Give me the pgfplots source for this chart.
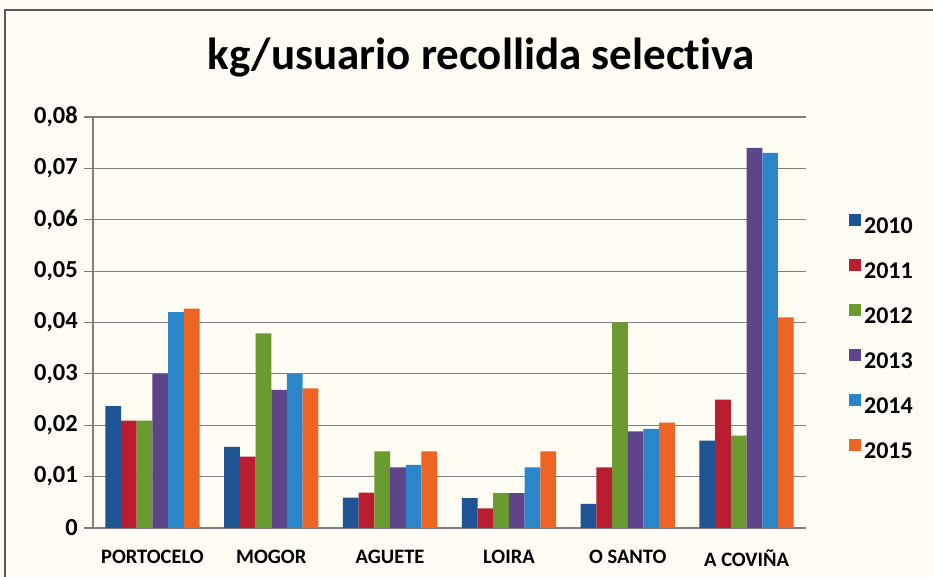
\documentclass[border=0pt]{standalone}
\usepackage{fontspec}
\setmainfont{Carlito}[Ligatures={NoCommon}]
\usepackage{pgfplots}
\pgfplotsset{compat=1.18}
\definecolor{bg}{HTML}{FEFCF3}
\definecolor{c10}{HTML}{1E5494}
\definecolor{c11}{HTML}{B81E30}
\definecolor{c12}{HTML}{6A9A30}
\definecolor{c13}{HTML}{5E4589}
\definecolor{c14}{HTML}{2A86C8}
\definecolor{c15}{HTML}{EE6425}
\definecolor{gridc}{HTML}{7E7E7E}
\pgfplotsset{sqleg/.style={legend image code/.code={\fill[##1] (0pt,1.5pt) rectangle (12pt,13.5pt);}}}
\begin{document}
\begin{tikzpicture}[x=1pt,y=1pt]
\useasboundingbox (0,0) rectangle (933,577);
\fill[bg] (0,0) rectangle (933,577);
\draw[black!65, line width=1.8pt] (5,-5) -- (5,567) -- (945,567);
\node[anchor=base, font=\bfseries\fontsize{45}{50}\selectfont] at (481,507) {kg/usuario recollida selectiva};
\begin{axis}[
  at={(93pt,49pt)}, anchor=south west,
  scale only axis, width=713pt, height=411pt,
  xmin=-0.5, xmax=5.5, ymin=0, ymax=0.08,
  scaled y ticks=false,
  ybar=0pt, bar width=15.7pt,
  xtick={0,1,2,3,4,5},
  xticklabels={PORTOCELO,MOGOR,AGUETE,LOIRA,O SANTO,A COVIÑA},
  ytick={0,0.01,0.02,0.03,0.04,0.05,0.06,0.07,0.08},
  yticklabels={0,{0,01},{0,02},{0,03},{0,04},{0,05},{0,06},{0,07},{0,08}},
  axis x line*=bottom, axis y line*=left,
  axis line style={gridc, line width=1.2pt, -},
  ymajorgrids, grid style={gridc, line width=1.2pt},
  x tick style={draw=none},
  y tick style={gridc, line width=1.2pt},
  ytick align=outside, major tick length=9pt,
  yticklabel style={font=\bfseries\fontsize{24.5}{28}\selectfont, anchor=east, inner sep=0pt, xshift=-6pt},
  xticklabel style={font=\bfseries\fontsize{20.5}{24}\selectfont, anchor=north, inner sep=0pt, yshift=-13pt},
  legend style={at={(1.056,0.770)}, anchor=north west, draw=none, fill=none,
    font=\bfseries\fontsize{24}{28}\selectfont, row sep=20.6pt, column sep=3pt,
    nodes={inner sep=0pt, text height=17pt, text depth=5pt}},
  legend cell align=left,
  clip=false,
]
\addplot[fill=c10, draw=none, sqleg] coordinates {(0,0.0237) (1,0.0158) (2,0.0059) (3,0.0058) (4,0.0047) (5,0.0170)};
\addplot[fill=c11, draw=none, sqleg] coordinates {(0,0.0209) (1,0.0139) (2,0.0069) (3,0.0038) (4,0.0118) (5,0.0250)};
\addplot[fill=c12, draw=none, sqleg] coordinates {(0,0.0209) (1,0.0379) (2,0.0149) (3,0.0068) (4,0.0400) (5,0.0180)};
\addplot[fill=c13, draw=none, sqleg] coordinates {(0,0.0300) (1,0.0269) (2,0.0118) (3,0.0068) (4,0.0188) (5,0.0740)};
\addplot[fill=c14, draw=none, sqleg] coordinates {(0,0.0420) (1,0.0300) (2,0.0123) (3,0.0118) (4,0.0193) (5,0.0730)};
\addplot[fill=c15, draw=none, sqleg] coordinates {(0,0.0427) (1,0.0272) (2,0.0149) (3,0.0149) (4,0.0205) (5,0.0410)};
\legend{2010,2011,2012,2013,2014,2015}
\end{axis}
\end{tikzpicture}
\end{document}
